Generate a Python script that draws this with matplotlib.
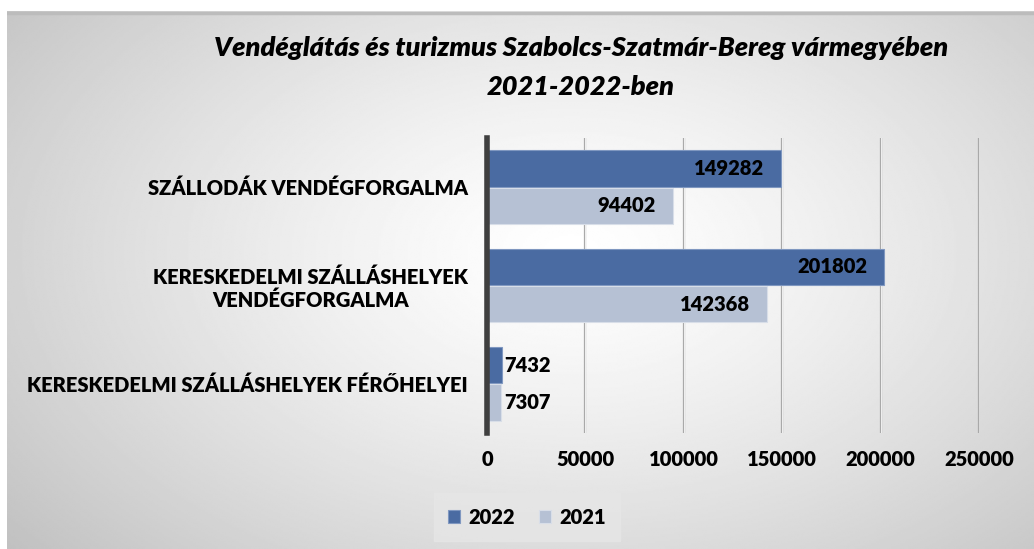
import matplotlib
matplotlib.use("Agg")
import matplotlib.pyplot as plt
import numpy as np

categories = ["SZÁLLODÁK VENDÉGFORGALMA",
              "KERESKEDELMI SZÁLLÁSHELYEK\nVENDÉGFORGALMA",
              "KERESKEDELMI SZÁLLÁSHELYEK FÉRŐHELYEI"]
values_2022 = [149282, 201802, 7432]
values_2021 = [94402, 142368, 7307]
xticks = [0, 50000, 100000, 150000, 200000, 250000]

c2022 = "#4a6ba2"
c2021 = "#b6c1d4"

plt.rcParams["font.family"] = ["Lato", "DejaVu Sans"]
WT = "heavy"
FS = 14.5

W, H = 1034, 549
fig = plt.figure(figsize=(W / 100, H / 100), dpi=100)
fig.patch.set_facecolor("white")

# chart area background with radial gradient
bg = fig.add_axes([7 / W, 0, 1 - 7 / W, 1 - 11 / H])
yy, xx = np.mgrid[0:1:300j, 0:1:600j]
d = np.sqrt(((xx - 0.55) / 0.75) ** 2 + ((yy - 0.45) / 0.9) ** 2)
shade = 1 - 0.26 * np.clip(d, 0, 1) ** 1.3
bg.imshow(shade, cmap="gray", vmin=0, vmax=1, aspect="auto",
          extent=[0, 1, 0, 1], interpolation="bilinear")
bg.set_xlim(0, 1)
bg.set_ylim(0, 1)
bg.axis("off")
bg.plot([0, 1], [0.997, 0.997], color="#bcbcbc", lw=2.5, transform=bg.transAxes)

ax = fig.add_axes([487 / W, 1 - 433 / H, (979 - 487) / W, (433 - 138) / H])
ax.patch.set_alpha(0)

y = np.arange(len(categories))[::-1]
h = 0.37
b1 = ax.barh(y + h / 2 + 0.005, values_2022, height=h, color=c2022,
             edgecolor="#7f97c0", linewidth=0.8, label="2022", zorder=3)
b2 = ax.barh(y - h / 2 - 0.005, values_2021, height=h, color=c2021,
             edgecolor="#d8dee8", linewidth=0.8, label="2021", zorder=3)

for bars, vals in [(b1, values_2022), (b2, values_2021)]:
    for bar, v in zip(bars, vals):
        cy = bar.get_y() + bar.get_height() / 2
        if v > 50000:
            ax.annotate(f"{v}", (v, cy), xytext=(-12, 0), textcoords="offset points",
                        ha="right", va="center", fontsize=FS, fontweight=WT,
                        color="black", zorder=5)
        else:
            ax.annotate(f"{v}", (v, cy), xytext=(2, 0), textcoords="offset points",
                        ha="left", va="center", fontsize=FS, fontweight=WT,
                        color="black", zorder=5)

ax.set_xlim(0, 250000)
ax.set_ylim(-0.5, 2.5)
ax.set_xticks(xticks)
ax.set_xticklabels([str(t) for t in xticks], fontsize=FS, fontweight=WT)
ax.set_yticks(y)
ax.set_yticklabels(categories, fontsize=FS, fontweight=WT, multialignment="center")
ax.tick_params(axis="y", length=0, pad=14)
ax.tick_params(axis="x", length=0, pad=12)

for t in xticks[1:]:
    ax.axvline(t, color="#a6a6a6", lw=1.6, zorder=1)
    ax.axvline(t, color="#eeeeee", lw=0.8, zorder=1, ymin=0, ymax=1)
for s in ["top", "right", "bottom"]:
    ax.spines[s].set_visible(False)
ax.spines["left"].set_color("#3f3f3f")
ax.spines["left"].set_linewidth(4)
ax.spines["left"].set_zorder(4)

fig.text(581 / W, 1 - 48 / H, "Vendéglátás és turizmus Szabolcs-Szatmár-Bereg vármegyében",
         ha="center", va="center", fontsize=19.5, fontweight=WT, style="italic")
fig.text(581 / W, 1 - 87 / H, "2021-2022-ben",
         ha="center", va="center", fontsize=19.5, fontweight=WT, style="italic")

leg = fig.legend(handles=[b1, b2], labels=["2022", "2021"], loc="center",
                 bbox_to_anchor=(527 / W, 1 - 517 / H), ncol=2, frameon=True,
                 fancybox=False, handlelength=0.6, handleheight=0.6,
                 handletextpad=0.4, columnspacing=1.2, borderpad=0.7,
                 fontsize=FS)
for txt in leg.get_texts():
    txt.set_fontweight(WT)
leg.get_frame().set_facecolor("#e6e6e6")
leg.get_frame().set_edgecolor("#e6e6e6")
leg.get_frame().set_alpha(0.8)

fig.savefig("out.png", dpi=100)
